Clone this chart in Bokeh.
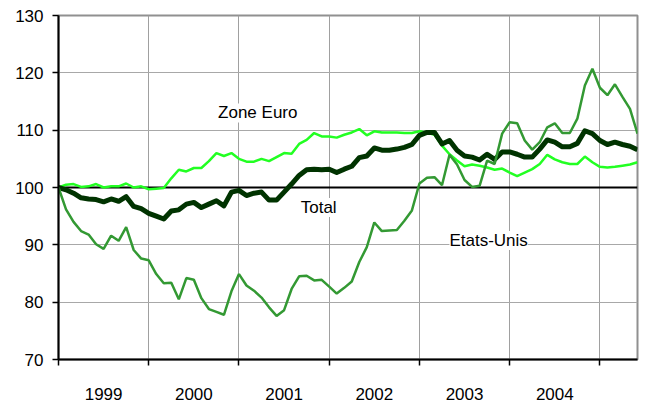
from bokeh.plotting import figure
from bokeh.models import Range1d, FixedTicker, Span, Label, ColumnDataSource
from bokeh.embed import file_html
from bokeh.resources import INLINE

# ---- data (monthly index, base 100 = Jan 1999) ----
years = ["1999", "2000", "2001", "2002", "2003", "2004"]

zone_euro = [100.0, 100.5, 100.6, 100.1, 100.2, 100.6, 100.0, 100.2, 100.2, 100.7, 100.0, 100.2,
             99.7, 99.8, 99.9, 101.6, 103.1, 102.8, 103.4, 103.4, 104.6, 106.0, 105.5, 106.0,
             105.0, 104.5, 104.5, 105.0, 104.6, 105.3, 106.0, 105.9, 107.6, 108.3, 109.5, 108.9,
             108.9, 108.7, 109.2, 109.6, 110.2, 109.1, 109.8, 109.6, 109.6, 109.6, 109.5, 109.5,
             109.8, 109.6, 109.2, 107.3, 105.8, 104.7, 103.7, 104.0, 103.8, 103.5, 103.1, 103.3,
             102.6, 102.0, 102.6, 103.2, 104.1, 105.7, 104.9, 104.4, 104.1, 104.1, 105.4, 104.4,
             103.6, 103.5, 103.6, 103.8, 104.0, 104.4]

etats_unis = [100.0, 96.2, 94.0, 92.4, 91.8, 90.1, 89.3, 91.6, 90.7, 93.1, 89.1, 87.6,
              87.3, 84.9, 83.3, 83.4, 80.5, 84.2, 83.9, 80.7, 78.8, 78.3, 77.8, 81.9,
              84.9, 82.9, 82.0, 80.8, 79.1, 77.6, 78.6, 82.3, 84.5, 84.6, 83.8, 83.9,
              82.7, 81.5, 82.5, 83.6, 87.0, 89.6, 93.9, 92.4, 92.5, 92.6, 94.2, 96.0,
              100.7, 101.7, 101.8, 100.4, 105.7, 104.0, 101.3, 100.1, 100.3, 104.7, 104.1, 109.4,
              111.4, 111.2, 108.2, 106.6, 107.9, 110.5, 111.2, 109.5, 109.5, 112.0, 117.8, 120.7,
              117.4, 116.1, 118.0, 115.8, 113.7, 109.4]

total = [100.0, 99.6, 99.0, 98.2, 98.0, 97.9, 97.5, 98.0, 97.6, 98.4, 96.7, 96.3,
         95.5, 95.0, 94.5, 95.9, 96.1, 97.1, 97.4, 96.5, 97.1, 97.7, 96.8, 99.2,
         99.5, 98.6, 99.0, 99.2, 97.8, 97.8, 99.2, 100.6, 102.1, 103.1, 103.2, 103.1,
         103.2, 102.6, 103.2, 103.7, 105.2, 105.5, 106.9, 106.5, 106.5, 106.7, 107.0, 107.5,
         109.1, 109.6, 109.6, 107.6, 108.2, 106.5, 105.5, 105.3, 104.8, 105.8, 104.9, 106.2,
         106.2, 105.8, 105.3, 105.3, 106.7, 108.3, 107.9, 107.1, 107.1, 107.7, 109.9, 109.4,
         108.2, 107.5, 107.9, 107.5, 107.2, 106.6]

BASE = 100
months = list(range(len(total)))

src = ColumnDataSource(dict(m=months, euro=zone_euro, us=etats_unis, tot=total))

FONT = "Liberation Sans"
n = len(months) - 1

p = figure(width=640, height=403, output_backend="svg", toolbar_location=None,
           x_range=Range1d(0, n), y_range=Range1d(70, 130),
           min_border_left=58, min_border_top=15, min_border_right=3, min_border_bottom=44)
p.background_fill_color = "white"
p.border_fill_color = "white"
p.outline_line_color = "#909090"
p.outline_line_width = 2

# grids
year_starts = [12 * k for k in range(1, len(years) + 1)]
p.xgrid.ticker = FixedTicker(ticks=year_starts)
p.xgrid.grid_line_color = "#a0a0a0"
p.xgrid.grid_line_width = 1
p.ygrid.ticker = FixedTicker(ticks=[70, 80, 90, 100, 110, 120, 130])
p.ygrid.grid_line_color = "#a8a8a8"
p.ygrid.grid_line_width = 1

# x axis: labels centred in each year, ticks at year boundaries
mids = [12 * k + 6 for k in range(len(years))]
p.xaxis.ticker = FixedTicker(ticks=mids, minor_ticks=[12 * k for k in range(len(years) + 1)])
p.xaxis.major_label_overrides = {m: y for m, y in zip(mids, years)}
p.xaxis.major_tick_line_color = None
p.xaxis.major_tick_out = 0
p.xaxis.major_tick_in = 0
p.xaxis.minor_tick_line_color = "black"
p.xaxis.minor_tick_line_width = 1.5
p.xaxis.minor_tick_out = 6
p.xaxis.minor_tick_in = 0
p.xaxis.axis_line_color = "black"
p.xaxis.axis_line_width = 2
p.xaxis.major_label_standoff = 22
p.xaxis.major_label_text_font = FONT
p.xaxis.major_label_text_font_size = "17px"
p.xaxis.major_label_text_color = "black"

# y axis
p.yaxis.ticker = FixedTicker(ticks=[70, 80, 90, 100, 110, 120, 130])
p.yaxis.minor_tick_line_color = None
p.yaxis.major_tick_line_color = "black"
p.yaxis.major_tick_line_width = 1.5
p.yaxis.major_tick_out = 6
p.yaxis.major_tick_in = 0
p.yaxis.axis_line_color = "black"
p.yaxis.axis_line_width = 2
p.yaxis.major_label_standoff = 9
p.yaxis.major_label_text_font = FONT
p.yaxis.major_label_text_font_size = "17px"
p.yaxis.major_label_text_color = "black"

# base line at 100
base = Span(location=BASE, dimension="width", line_color="black", line_width=2, level="underlay")
p.add_layout(base)

# series
p.line("m", "euro", source=src, line_color="#22ff22", line_width=2.5)
p.line("m", "tot", source=src, line_color="#003300", line_width=5, line_join="round")
p.line("m", "us", source=src, line_color="#339933", line_width=2.5)

# labels
for (lx, ly, txt) in [(26.5, 113.0, "Zone Euro"), (34.6, 96.5, "Total"), (57.2, 90.75, "Etats-Unis")]:
    p.add_layout(Label(x=lx, y=ly, text=txt, text_align="center", text_baseline="middle",
                       text_font=FONT, text_font_size="17px", text_color="black",
                       background_fill_color="white"))

open("out.html", "w").write(file_html(p, INLINE))
